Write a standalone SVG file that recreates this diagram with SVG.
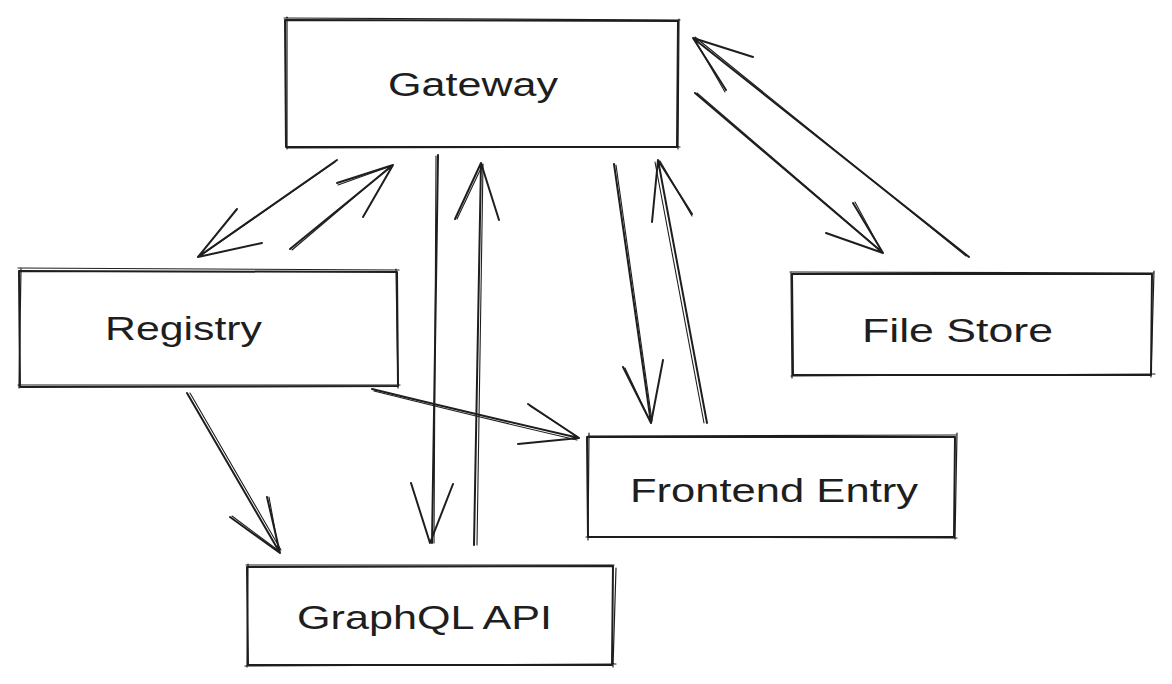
<svg xmlns="http://www.w3.org/2000/svg" width="1172" height="684" viewBox="0 0 1172 684">
<style>
.bx{fill:none;stroke:#1e1e1e;stroke-width:2;stroke-linecap:round;stroke-linejoin:round}
.bx2{fill:none;stroke:#1e1e1e;stroke-width:1.2;stroke-linecap:round}
.ln{fill:none;stroke:#1e1e1e;stroke-width:2;stroke-linecap:round;stroke-linejoin:round}
.ln2{fill:none;stroke:#1e1e1e;stroke-width:1.1;stroke-linecap:round}
.t{font-family:"Liberation Sans",Arial,sans-serif;font-size:34px;fill:#1e1e1e}
</style>
<rect width="1172" height="684" fill="#ffffff"/>
<g id="gateway">
<path class="bx" d="M285 20 L678 21 L677 147 L286 147 Z"/>
<path class="bx2" d="M284 18 L680 20 M679 19 L678 149 M287 148 L680 147 M287 17 L287 149"/>
<text class="t" x="388" y="96" textLength="170" lengthAdjust="spacingAndGlyphs">Gateway</text>
</g>
<g id="registry">
<path class="bx" d="M19 271 L397 272 L398 386 L20 387 Z"/>
<path class="bx2" d="M18 268 L399 270 M396 269 L398 388 M18 385 L400 385 M21 268 L19 388"/>
<text class="t" x="105" y="340" textLength="157" lengthAdjust="spacingAndGlyphs">Registry</text>
</g>
<g id="filestore">
<path class="bx" d="M792 274 L1152 274 L1151 375 L793 375 Z"/>
<path class="bx2" d="M790 272 L1154 273 M1154 271 L1151 377 M791 376 L1155 374 M791 272 L792 378"/>
<text class="t" x="862" y="342" textLength="191" lengthAdjust="spacingAndGlyphs">File Store</text>
</g>
<g id="frontend">
<path class="bx" d="M587 437 L955 437 L954 537 L588 537 Z"/>
<path class="bx2" d="M588 436 L956 435 M957 433 L955 539 M586 537 L957 538 M589 433 L588 540"/>
<text class="t" x="630" y="502" textLength="288" lengthAdjust="spacingAndGlyphs">Frontend Entry</text>
</g>
<g id="graphql">
<path class="bx" d="M247 567 L613 566 L612 665 L248 665 Z"/>
<path class="bx2" d="M246 565 L614 565 M616 568 L613 667 M245 666 L616 664 M248 564 L247 667"/>
<text class="t" x="297" y="629" textLength="255" lengthAdjust="spacingAndGlyphs">GraphQL API</text>
</g>
<g id="connectors">
<path class="ln" d="M337 160 L198 257 M237 209 L198 257 L262 243"/>
<path class="ln2" d="M335 162 L200 256"/>
<path class="ln" d="M290 249 L393 165 M337 183 L393 165 L363 217"/>
<path class="ln2" d="M292 250 L391 166 M338 185 L391 166"/>
<path class="ln" d="M438 155 L432 543 M411 483 L430 543 L453 484"/>
<path class="ln2" d="M436 156 L434 543"/>
<path class="ln" d="M474 545 L481 163 M455 219 L481 163 L499 220"/>
<path class="ln2" d="M477 545 L483 164 M457 219 L483 164"/>
<path class="ln" d="M614 164 L651 423 M623 367 L651 423 L663 360"/>
<path class="ln2" d="M616 165 L652 421 M625 368 L650 421"/>
<path class="ln" d="M707 423 L658 160 M652 222 L658 160 L692 214"/>
<path class="ln2" d="M704 423 L655 162 M660 161 L692 216"/>
<path class="ln" d="M695 93 L883 253 M853 203 L883 253 L826 233"/>
<path class="ln2" d="M697 93 L881 251 M855 202 L882 252"/>
<path class="ln" d="M969 257 L693 38 M753 57 L693 38 L726 90"/>
<path class="ln2" d="M966 256 L695 37 M695 40 L725 92"/>
<path class="ln" d="M187 393 L280 553 M230 517 L280 553 L267 497"/>
<path class="ln2" d="M190 393 L281 550 M232 516 L279 551 M269 497 L279 552"/>
<path class="ln" d="M372 389 Q470 413 579 438 M528 404 L579 438 L518 444"/>
<path class="ln2" d="M374 391 Q470 415 577 440 M530 406 L578 437"/>
</g>
</svg>
